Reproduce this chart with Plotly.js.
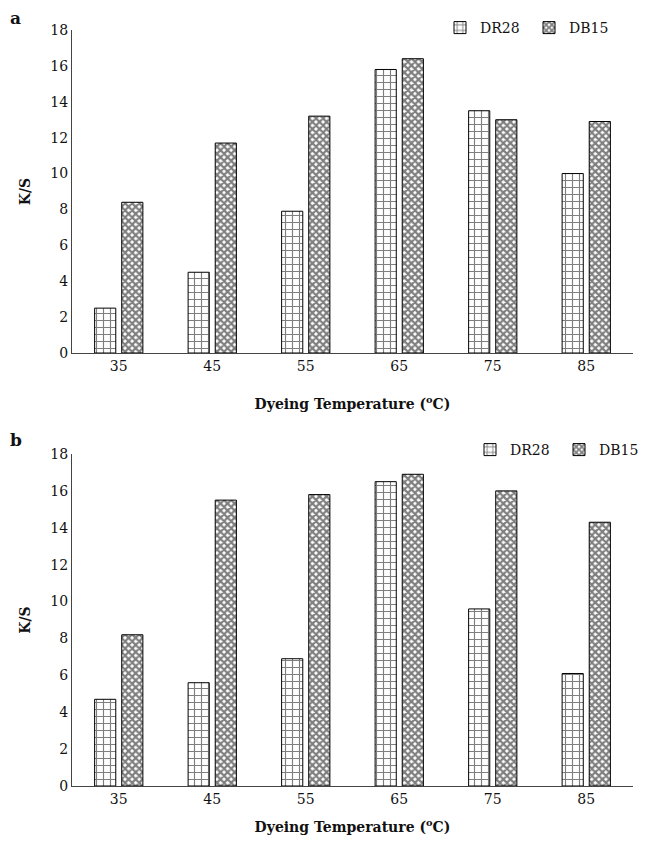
<!DOCTYPE html>
<html>
<head>
<meta charset="utf-8">
<script src="https://cdn.plot.ly/plotly-3.0.1.min.js"></script>
<style>html,body{margin:0;padding:0;background:#fff;}#chart{width:646px;height:846px;}</style>
</head>
<body>
<div id="chart"></div>
<script>
const temperatures = ["35", "45", "55", "65", "75", "85"];
const dr28_a = [2.5, 4.5, 7.9, 15.8, 13.5, 10.0];
const db15_a = [8.4, 11.7, 13.2, 16.4, 13.0, 12.9];
const dr28_b = [4.7, 5.6, 6.9, 16.5, 9.6, 6.1];
const db15_b = [8.2, 15.5, 15.8, 16.9, 16.0, 14.3];
const yTicks = [0, 2, 4, 6, 8, 10, 12, 14, 16, 18];

const serif = "DejaVu Serif";
const brick = {shape: "+", fgcolor: "#000", bgcolor: "#fff", size: 7, solidity: 0.3, fillmode: "overlay"};
const dots = {shape: "x", fgcolor: "#000", bgcolor: "#fff", size: 5, solidity: 0.7, fillmode: "overlay"};

function barTrace(name, y, xa, ya, pat, leg) {
  return {
    type: "bar", name: name, x: temperatures, y: y, xaxis: xa, yaxis: ya, legend: leg,
    marker: {color: "#fff", pattern: pat, line: {color: "#000", width: 1}},
    hoverinfo: "x+y+name"
  };
}

const data = [
  barTrace("DR28", dr28_a, "x", "y", brick, "legend"),
  barTrace("DB15", db15_a, "x", "y", dots, "legend"),
  barTrace("DR28", dr28_b, "x2", "y2", brick, "legend2"),
  barTrace("DB15", db15_b, "x2", "y2", dots, "legend2")
];

const xDom = [72/646, 633/646];
function xAxis(anchor, titleStandoff) {
  return {
    domain: xDom, anchor: anchor, type: "category", automargin: false,
    showline: true, linecolor: "#444", linewidth: 1, ticks: "", showgrid: false, zeroline: false,
    tickfont: {family: serif, size: 14, color: "#111"},
    title: {text: "<b>Dyeing Temperature (<sup>o</sup>C)</b>", font: {family: serif, size: 14, color: "#111"}, standoff: titleStandoff}
  };
}
function yAxis(anchor, dom) {
  return {
    domain: dom, anchor: anchor, range: [0, 18], tickvals: yTicks, automargin: false,
    showline: true, linecolor: "#444", linewidth: 1, ticks: "", showgrid: false, zeroline: false,
    tickfont: {family: serif, size: 14, color: "#111"},
    title: {text: "<b>K/S</b>", font: {family: serif, size: 14, color: "#111"}, standoff: 16}
  };
}

const layout = {
  width: 646, height: 846,
  margin: {l: 0, r: 0, t: 0, b: 0, autoexpand: false},
  paper_bgcolor: "#fff", plot_bgcolor: "#fff",
  font: {family: serif, size: 14, color: "#111"},
  barmode: "group", bargap: 0.42, bargroupgap: 0.22,
  xaxis: xAxis("y", 26),
  yaxis: yAxis("x", [1 - 353/846, 1 - 30/846]),
  xaxis2: xAxis("y2", 16),
  yaxis2: yAxis("x2", [1 - 786/846, 1 - 454/846]),
  legend: {orientation: "h", x: 440/646, y: 1 - 12/846, xanchor: "left", yanchor: "top",
    font: {family: serif, size: 14, color: "#111"}, entrywidth: 44, entrywidthmode: "pixels", traceorder: "normal", bgcolor: "rgba(0,0,0,0)"},
  legend2: {orientation: "h", x: 470/646, y: 1 - 434/846, xanchor: "left", yanchor: "top",
    font: {family: serif, size: 14, color: "#111"}, entrywidth: 44, entrywidthmode: "pixels", traceorder: "normal", bgcolor: "rgba(0,0,0,0)"},
  annotations: [
    {text: "<b>a</b>", x: 8/646, y: 1 - 6/846, xref: "paper", yref: "paper", xanchor: "left", yanchor: "top", showarrow: false, font: {family: serif, size: 17, color: "#111"}},
    {text: "<b>b</b>", x: 8/646, y: 1 - 428/846, xref: "paper", yref: "paper", xanchor: "left", yanchor: "top", showarrow: false, font: {family: serif, size: 17, color: "#111"}}
  ]
};

Plotly.newPlot("chart", data, layout, {displayModeBar: false, staticPlot: true});
</script>
</body>
</html>
